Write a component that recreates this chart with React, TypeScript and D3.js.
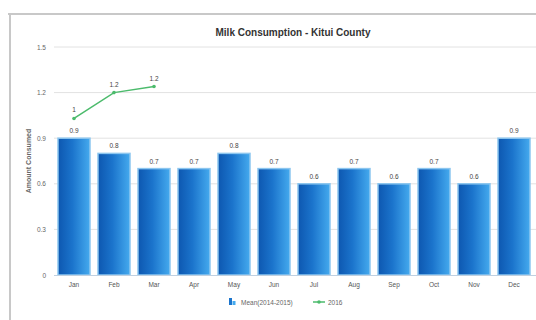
import React from "react";
import * as d3 from "d3";

const months = ["Jan", "Feb", "Mar", "Apr", "May", "Jun", "Jul", "Aug", "Sep", "Oct", "Nov", "Dec"];
const meanValues = [0.9, 0.8, 0.7, 0.7, 0.8, 0.7, 0.6, 0.7, 0.6, 0.7, 0.6, 0.9];
const lineMonths = ["Jan", "Feb", "Mar"];
const lineValues = [1.03, 1.2, 1.24];
const yTicks = [0, 0.3, 0.6, 0.9, 1.2, 1.5];
const seriesNames = ["Mean(2014-2015)", "2016"];

const width = 536;
const height = 320;
const margin = { top: 47, right: 2, bottom: 45, left: 54 };

const fmt = (v: number) => String(+v.toFixed(1));

const App = () => {
  const x = d3
    .scaleBand()
    .domain(months)
    .range([margin.left, width - margin.right])
    .paddingInner(0.2)
    .paddingOuter(0.1);

  const y = d3
    .scaleLinear()
    .domain([0, 1.5])
    .range([height - margin.bottom, margin.top]);

  const cx = (m: string) => (x(m) ?? 0) + x.bandwidth() / 2;

  const line = d3
    .line<number>()
    .x((_, i) => cx(lineMonths[i]))
    .y((d) => y(d));

  const font = "'Liberation Sans', Arial, sans-serif";

  return (
    <svg
      width={width}
      height={height}
      style={{ position: "absolute", left: 0, top: 0, background: "#fff" }}
      fontFamily={font}
    >
      <defs>
        <linearGradient id="barGrad" x1="0" x2="1" y1="0" y2="0">
          <stop offset="0" stopColor="#0d57b0" />
          <stop offset="0.45" stopColor="#1b74cc" />
          <stop offset="1" stopColor="#45aaee" />
        </linearGradient>
      </defs>

      {/* frame */}
      <line x1={8} x2={width} y1={14} y2={14} stroke="#c8c8c8" strokeWidth={2} />
      <line x1={10} x2={10} y1={14} y2={height} stroke="#c8c8c8" strokeWidth={2} />

      {/* title */}
      <text x={293} y={36} textAnchor="middle" fontSize={10} fontWeight="bold" fill="#333">
        Milk Consumption - Kitui County
      </text>

      {/* grid + y labels */}
      {yTicks.map((t) => (
        <g key={t}>
          {t > 0 && (
            <line x1={margin.left} x2={width} y1={y(t)} y2={y(t)} stroke="#e2e2e2" strokeWidth={1} />
          )}
          <text x={46} y={y(t) + 2.5} textAnchor="end" fontSize={6.5} fill="#666">
            {t}
          </text>
        </g>
      ))}

      {/* y title */}
      <text
        transform={`translate(31, ${(margin.top + height - margin.bottom) / 2}) rotate(-90)`}
        textAnchor="middle"
        fontSize={7}
        fontWeight="bold"
        fill="#666"
      >
        Amount Consumed
      </text>

      {/* bars */}
      {months.map((m, i) => (
        <g key={m}>
          <rect
            x={x(m)}
            y={y(meanValues[i])}
            width={x.bandwidth()}
            height={y(0) - y(meanValues[i])}
            fill="url(#barGrad)"
            stroke="#8cc6ef"
            strokeWidth={1.5}
          />
          <text x={cx(m)} y={y(meanValues[i]) - 5} textAnchor="middle" fontSize={6.5} fill="#444">
            {fmt(meanValues[i])}
          </text>
        </g>
      ))}

      {/* x axis */}
      <line x1={margin.left} x2={width} y1={y(0) + 0.5} y2={y(0) + 0.5} stroke="#c0d0e0" />
      {months.map((m) => (
        <text key={m} x={cx(m)} y={y(0) + 12} textAnchor="middle" fontSize={6.5} fill="#555">
          {m}
        </text>
      ))}

      {/* line series */}
      <path d={line(lineValues) ?? ""} fill="none" stroke="#4cbb6c" strokeWidth={1.5} />
      {lineValues.map((v, i) => (
        <g key={lineMonths[i]}>
          <circle cx={cx(lineMonths[i])} cy={y(v)} r={1.8} fill="#4cbb6c" />
          <text x={cx(lineMonths[i])} y={y(v) - 6} textAnchor="middle" fontSize={6.5} fill="#444">
            {fmt(v)}
          </text>
        </g>
      ))}

      {/* legend */}
      <g transform="translate(229, 304)">
        <rect x={0} y={-6} width={3} height={7} fill="#1b74cc" />
        <rect x={3.5} y={-3} width={3} height={4} fill="#45aaee" />
        <text x={12} y={0.5} fontSize={6.5} fill="#666">
          {seriesNames[0]}
        </text>
        <line x1={84} x2={96} y1={-2} y2={-2} stroke="#4cbb6c" strokeWidth={1.5} />
        <circle cx={90} cy={-2} r={1.8} fill="#4cbb6c" />
        <text x={99} y={0.5} fontSize={6.5} fill="#666">
          {seriesNames[1]}
        </text>
      </g>
    </svg>
  );
};

export default App;
